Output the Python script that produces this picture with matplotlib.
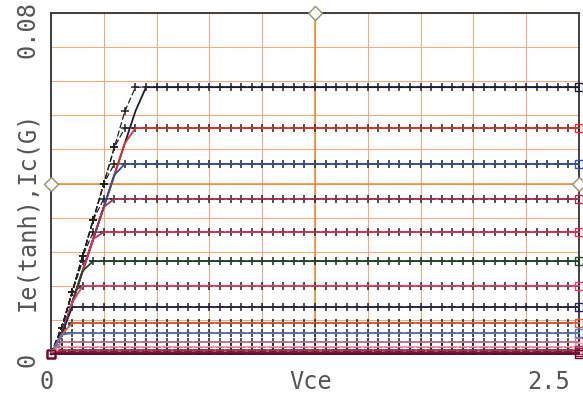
import matplotlib.pyplot as plt
import numpy as np

# Vce sweep points (0.05 V step)
vce = np.linspace(0.0, 2.5, 51)

# saturation level of each trace, top to bottom
levels = [0.0626, 0.0530, 0.0446, 0.0364, 0.0286, 0.0218, 0.0160, 0.0110,
          0.0073, 0.0049, 0.0028, 0.0017, 0.0009, 0.0004, 0.0001]
colors = ["#1c1c3c", "#e0302c", "#34509a", "#a83058", "#d83050", "#1f4a25",
          "#e04070", "#25254d", "#e05a3a", "#5a78b4", "#c87890", "#e8a0b0",
          "#b03050", "#8a1840", "#6a0a30"]

# shared rising edge for the first sweep points (0 .. 0.5 V)
ramp_ie = [0.0, 0.0060, 0.0145, 0.0230, 0.0315, 0.0400, 0.0485, 0.0570,
           0.0655, 0.0740, 0.0825]
ramp_ic = [0.0, 0.0045, 0.0120, 0.0195, 0.0270, 0.0345, 0.0420, 0.0495,
           0.0570, 0.0645, 0.0720]

x_labels = ["0", "2.5"]
y_labels = ["0", "0.08"]

W, H = 583, 400
TXT = dict(family="DejaVu Sans Mono", size=17, color="#555555",
           ha="center", va="center")


def trace(ramp, level):
    y = np.full(vce.size, level)
    y[:len(ramp)] = np.minimum(ramp, level)
    return y


fig = plt.figure(figsize=(W / 100, H / 100), dpi=100)
ax = fig.add_axes([51 / W, 46 / H, 528 / W, 341 / H])

ax.set_xlim(0, 2.5)
ax.set_ylim(0, 0.08)
ax.set_xticks(np.linspace(0, 2.5, 11))
ax.set_yticks(np.linspace(0, 0.08, 11))
ax.tick_params(length=0, labelbottom=False, labelleft=False)
ax.grid(color="#efac84", linewidth=0.8)
ax.set_axisbelow(True)
ax.axvline(1.25, color="#e48a30", linewidth=1.1, zorder=1)
ax.axhline(0.04, color="#e48a30", linewidth=1.1, zorder=1)
for s in ax.spines.values():
    s.set_color("#333333")
    s.set_linewidth(1.3)

# Ie(tanh): black dashed with + at every sweep point
for lv in levels:
    ax.plot(vce, trace(ramp_ie, lv), color="#222222", linewidth=0.9,
            linestyle=(0, (5, 2)), marker="+", markersize=5.5,
            markeredgewidth=1.1, zorder=3)

# Ic(G): coloured solid, open squares at both ends
for lv, c in zip(levels, colors):
    ax.plot(vce, trace(ramp_ic, lv), color=c, linewidth=1.3, marker="s",
            markevery=[0, -1], markersize=6, markerfacecolor="none",
            markeredgewidth=1.0, clip_on=False, zorder=4)

# cursor marks on the frame
for cx, cy in [(1.25, 0.08), (0.0, 0.04), (2.5, 0.04)]:
    ax.plot([cx], [cy], marker="D", markersize=7, markerfacecolor="white",
            markeredgecolor="#9c8c6c", markeredgewidth=1.0, clip_on=False,
            zorder=6)

fig.text(47 / W, 1 - 382 / H, x_labels[0], **TXT)
fig.text(549 / W, 1 - 382 / H, x_labels[1], **TXT)
fig.text(311 / W, 1 - 382 / H, "Vce", **TXT)
fig.text(27 / W, 1 - 360 / H, y_labels[0], rotation=90, **TXT)
fig.text(27 / W, 1 - 30 / H, y_labels[1], rotation=90, **TXT)
fig.text(27 / W, 1 - 211 / H, "Ie(tanh),Ic(G)", rotation=90, **TXT)

fig.savefig("out.png", dpi=100)
